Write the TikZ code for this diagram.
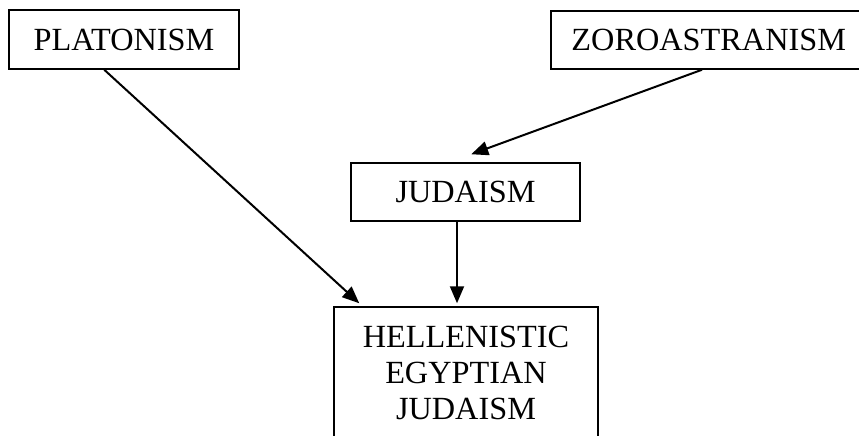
\documentclass[tikz,border=0pt]{standalone}
\usepackage{fontspec}
\setmainfont{Liberation Serif}
\usetikzlibrary{arrows.meta}
\begin{document}
\begin{tikzpicture}[x=1pt,y=-1pt,
  box/.style={draw=black, line width=1.5pt, inner sep=0pt, align=center,
    font=\fontsize{32.3}{36}\selectfont},
  arr/.style={line width=2pt, -{Triangle[length=17pt,width=14pt]}}]
\useasboundingbox (0,0) rectangle (859,436);
\clip (0,0) rectangle (859,436);
\node[box, minimum width=230pt, minimum height=59pt] (plat) at (124,39.5) {PLATONISM};
\node[box, minimum width=316pt, minimum height=58pt, anchor=west] (zor) at (550,40) {ZOROASTRANISM};
\node[box, minimum width=229pt, minimum height=58pt] (jud) at (465.5,192) {JUDAISM};
\node[box, minimum width=264pt, minimum height=131pt] (hell) at (466,372.5) {HELLENISTIC\\EGYPTIAN\\JUDAISM};
\draw[arr] ([xshift=96pt]plat.south west) -- ([xshift=26pt,yshift=3pt]hell.north west);
\draw[arr] ([xshift=152pt]zor.south west) -- ([xshift=121pt,yshift=8pt]jud.north west);
\draw[arr] ([xshift=-8.5pt]jud.south) -- ([xshift=-9pt,yshift=3pt]hell.north);
\end{tikzpicture}
\end{document}
